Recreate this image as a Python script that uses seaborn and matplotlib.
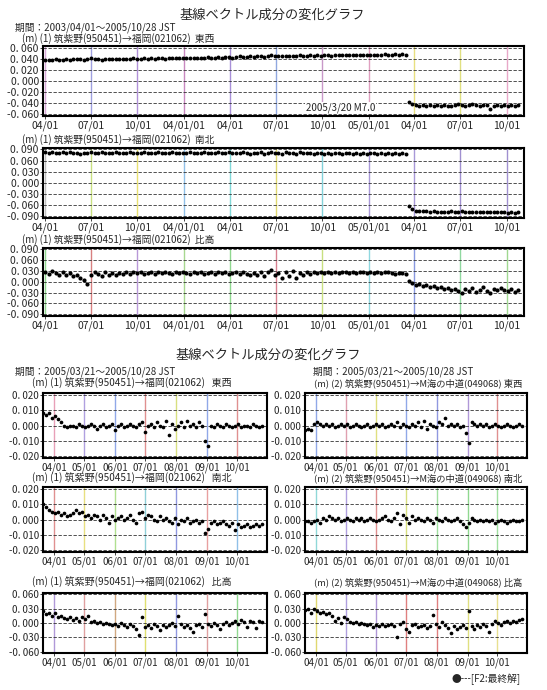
import matplotlib
matplotlib.use('Agg')
import matplotlib.pyplot as plt
import seaborn as sns
import pandas as pd

# ---- long period 2003/04/01 - 2005/10/28 (weekly readings) ----
ew1_pre = [
    0.038, 0.037, 0.038, 0.039, 0.038, 0.038, 0.039, 0.038, 0.039, 0.040,
    0.039, 0.038, 0.039, 0.042, 0.040, 0.039, 0.038, 0.039, 0.040, 0.039,
    0.040, 0.039, 0.040, 0.039, 0.040, 0.041, 0.040, 0.040, 0.041, 0.040,
    0.041, 0.040, 0.041, 0.041, 0.040, 0.041, 0.042, 0.041, 0.041, 0.042,
    0.041, 0.042, 0.042, 0.041, 0.042, 0.042, 0.043, 0.042, 0.042, 0.043,
    0.042, 0.043, 0.043, 0.042, 0.043, 0.044, 0.043, 0.043, 0.044, 0.043,
    0.044, 0.045, 0.043, 0.044, 0.046, 0.044, 0.045, 0.044, 0.045, 0.045,
    0.044, 0.045, 0.046, 0.045, 0.045, 0.046, 0.045, 0.046, 0.045, 0.046,
    0.046, 0.045, 0.046, 0.046, 0.047, 0.046, 0.046, 0.047, 0.046, 0.047,
    0.047, 0.046, 0.047, 0.047, 0.046, 0.047, 0.048, 0.047, 0.047, 0.048,
    0.047, 0.048, 0.047,
]
ew1_post = [
    -0.039, -0.043, -0.044, -0.045, -0.044, -0.045, -0.044, -0.045, -0.044, -0.045,
    -0.044, -0.045, -0.045, -0.044, -0.043, -0.044, -0.045, -0.044, -0.043, -0.044,
    -0.045, -0.044, -0.044, -0.052, -0.045, -0.044, -0.045, -0.044, -0.045, -0.044,
    -0.045, -0.044,
]
ns1_pre = [
    0.082, 0.081, 0.082, 0.080, 0.081, 0.082, 0.081, 0.083, 0.080, 0.081,
    0.079, 0.081, 0.080, 0.082, 0.081, 0.080, 0.082, 0.081, 0.080, 0.081,
    0.082, 0.080, 0.081, 0.080, 0.082, 0.081, 0.080, 0.081, 0.082, 0.080,
    0.081, 0.080, 0.082, 0.081, 0.080, 0.081, 0.082, 0.080, 0.081, 0.080,
    0.081, 0.082, 0.080, 0.081, 0.080, 0.082, 0.081, 0.080, 0.081, 0.082,
    0.080, 0.081, 0.082, 0.080, 0.081, 0.080, 0.082, 0.081, 0.079, 0.081,
    0.080, 0.082, 0.079, 0.081, 0.083, 0.080, 0.081, 0.079, 0.082, 0.080,
    0.081, 0.079, 0.082, 0.080, 0.081, 0.080, 0.079, 0.081, 0.080, 0.079,
    0.080, 0.079, 0.081, 0.080, 0.079, 0.080, 0.081, 0.079, 0.080, 0.079,
    0.080, 0.079, 0.080, 0.081, 0.079, 0.080, 0.079, 0.080, 0.079, 0.080,
    0.079, 0.080, 0.079,
]
ns1_post = [
    -0.062, -0.072, -0.075, -0.076, -0.077, -0.077, -0.078, -0.077, -0.078, -0.079,
    -0.078, -0.078, -0.077, -0.079, -0.078, -0.076, -0.078, -0.079, -0.078, -0.079,
    -0.080, -0.079, -0.078, -0.080, -0.079, -0.080, -0.079, -0.080, -0.081, -0.080,
    -0.081, -0.080,
]
ud1_pre = [
    0.028, 0.022, 0.030, 0.025, 0.020, 0.027, 0.018, 0.024, 0.015, 0.020,
    0.012, 0.005, -0.005, 0.018, 0.028, 0.022, 0.015, 0.026, 0.020, 0.024,
    0.018, 0.025, 0.021, 0.027, 0.022, 0.026, 0.024, 0.028, 0.023, 0.025,
    0.027, 0.022, 0.026, 0.024, 0.028, 0.025, 0.023, 0.027, 0.024, 0.026,
    0.025, 0.022, 0.027, 0.024, 0.026, 0.021, 0.025, 0.027, 0.023, 0.026,
    0.024, 0.027, 0.022, 0.025, 0.028, 0.021, 0.026, 0.023, 0.018, 0.025,
    0.020, 0.028, 0.015, 0.026, 0.033, 0.018, 0.024, 0.010, 0.028, 0.016,
    0.030, 0.012, 0.025, 0.020, 0.027, 0.022, 0.026, 0.024, 0.027, 0.025,
    0.026, 0.024, 0.027, 0.025, 0.026, 0.028, 0.024, 0.026, 0.025, 0.027,
    0.026, 0.025, 0.027, 0.024, 0.026, 0.025, 0.027, 0.026, 0.024, 0.023,
    0.025, 0.024, 0.022,
]
ud1_post = [
    0.003, -0.002, -0.008, -0.005, -0.012, -0.010, -0.015, -0.012, -0.018, -0.014,
    -0.020, -0.017, -0.022, -0.019, -0.025, -0.030, -0.020, -0.026, -0.016, -0.028,
    -0.022, -0.015, -0.025, -0.030, -0.020, -0.024, -0.018, -0.022, -0.026, -0.020,
    -0.028, -0.022,
]

# ---- short period 2005/03/21 - 2005/10/28 (3-day readings) ----
ew_a = [
    0.008, 0.007, 0.008, 0.005, 0.006, 0.004, 0.002, 0.000, -0.001, 0.000,
    0.000, -0.001, 0.001, 0.000, -0.001, 0.000, 0.001, 0.000, -0.002, 0.000,
    0.001, -0.001, 0.000, 0.001, -0.003, 0.000, 0.001, -0.001, 0.000, 0.001,
    0.000, -0.001, 0.001, 0.002, -0.004, 0.000, 0.001, -0.001, 0.002, 0.000,
    -0.001, 0.003, -0.006, 0.001, -0.002, 0.000, 0.002, -0.001, 0.003, 0.000,
    0.001, -0.001, 0.002, 0.000, -0.010, -0.013, 0.000, -0.001, 0.001, 0.000,
    -0.001, 0.001, 0.000, -0.001, 0.000, 0.001, -0.001, 0.000, 0.000, -0.001,
    0.001, 0.000, -0.001, 0.000,
]
ew_b = [
    -0.003, -0.002, -0.003, 0.001, 0.002, 0.001, 0.000, 0.001, 0.000, 0.001,
    -0.001, 0.000, 0.001, 0.000, 0.001, -0.001, 0.000, 0.001, 0.000, -0.001,
    0.000, 0.001, -0.001, 0.000, 0.001, 0.000, 0.001, -0.001, 0.000, 0.001,
    0.000, 0.002, -0.001, 0.001, 0.000, -0.001, 0.001, 0.000, 0.002, -0.001,
    0.003, -0.002, 0.001, 0.000, -0.001, 0.002, 0.001, 0.005, 0.000, 0.001,
    0.000, 0.001, -0.001, 0.000, -0.005, -0.011, 0.002, 0.001, 0.000, 0.001,
    0.000, 0.001, -0.001, 0.000, 0.001, 0.000, -0.001, 0.000, 0.001, 0.000,
    -0.001, 0.000, 0.001, 0.000,
]
ns_a = [
    0.010, 0.008, 0.006, 0.005, 0.004, 0.005, 0.003, 0.004, 0.002, 0.003,
    0.004, 0.006, 0.004, 0.005, 0.002, 0.003, 0.001, 0.003, 0.002, 0.000,
    0.003, 0.001, -0.002, 0.002, 0.000, 0.001, 0.002, 0.000, 0.001, 0.003,
    0.000, -0.002, 0.004, 0.005, 0.001, 0.003, 0.002, 0.000, -0.001, 0.002,
    0.000, 0.001, -0.001, -0.002, 0.001, -0.003, 0.000, -0.001, 0.001, -0.002,
    -0.001, 0.000, -0.002, -0.001, -0.009, -0.006, -0.002, -0.001, -0.003, -0.002,
    -0.001, -0.003, -0.004, -0.002, -0.007, -0.003, -0.005, -0.004, -0.003, -0.005,
    -0.004, -0.003, -0.004, -0.003,
]
ns_b = [
    -0.001, -0.001, -0.002, -0.001, 0.000, -0.002, 0.001, 0.000, 0.002, 0.001,
    0.000, 0.001, -0.001, 0.000, 0.001, 0.000, -0.001, 0.001, 0.000, 0.001,
    -0.001, 0.000, 0.001, 0.000, -0.001, 0.000, 0.001, 0.002, 0.000, -0.001,
    0.001, 0.004, -0.003, 0.003, 0.001, -0.002, 0.002, 0.000, 0.001, 0.000,
    -0.001, 0.001, 0.000, -0.002, 0.001, 0.000, -0.001, 0.001, 0.000, -0.001,
    0.000, 0.001, -0.001, -0.003, -0.005, -0.002, 0.001, 0.000, -0.001, 0.000,
    -0.001, 0.000, -0.001, 0.000, -0.002, -0.001, 0.000, -0.001, -0.002, -0.001,
    0.000, -0.001, -0.001, 0.000,
]
ud_a = [
    0.025, 0.018, 0.022, 0.015, 0.020, 0.012, 0.015, 0.010, 0.008, 0.012,
    0.006, 0.010, 0.005, 0.012, 0.008, 0.015, 0.002, 0.005, 0.000, 0.003,
    -0.002, 0.001, -0.003, -0.005, -0.002, -0.006, 0.000, -0.004, -0.008, -0.003,
    -0.006, -0.012, -0.026, 0.012, -0.008, -0.005, -0.010, -0.003, -0.007, -0.015,
    -0.005, -0.008, -0.004, 0.000, -0.006, 0.014, -0.002, -0.008, -0.004, -0.010,
    -0.018, -0.005, -0.002, -0.008, 0.018, -0.003, -0.006, 0.000, -0.004, -0.012,
    -0.002, 0.002, -0.004, 0.000, 0.004, -0.003, 0.006, 0.002, -0.008, 0.004,
    0.002, -0.010, 0.005, 0.003,
]
ud_b = [
    0.028, 0.030, 0.022, 0.030, 0.025, 0.020, 0.024, 0.018, 0.022, 0.015,
    0.005, 0.010, 0.000, 0.012, 0.008, 0.003, 0.000, 0.002, -0.003, 0.001,
    -0.002, -0.005, -0.003, -0.008, -0.004, -0.006, -0.002, -0.007, -0.004, -0.003,
    -0.006, -0.030, -0.002, 0.003, -0.012, -0.018, -0.005, -0.003, -0.008, -0.006,
    -0.004, -0.010, -0.006, 0.016, -0.003, -0.008, 0.002, -0.005, -0.010, -0.020,
    -0.006, -0.012, -0.008, -0.004, -0.010, 0.025, -0.007, -0.012, -0.005, -0.008,
    -0.003, -0.006, -0.018, -0.002, 0.004, 0.000, -0.004, 0.003, 0.005, 0.000,
    0.004, 0.002, 0.006, 0.008,
]

long_ticks = ['2003-04-01', '2003-07-01', '2003-10-01', '2004-01-01', '2004-04-01', '2004-07-01',
              '2004-10-01', '2005-01-01', '2005-04-01', '2005-07-01', '2005-10-01']
long_labels = ['04/01', '07/01', '10/01', '04/01/01', '04/01', '07/01', '10/01',
               '05/01/01', '04/01', '07/01', '10/01']
short_ticks = ['2005-04-01', '2005-05-01', '2005-06-01', '2005-07-01', '2005-08-01',
               '2005-09-01', '2005-10-01']
short_labels = ['04/01', '05/01', '06/01', '07/01', '08/01', '09/01', '10/01']

site_a = '(m) (1) 筑紫野(950451)→福岡(021062)'
site_b = '(m) (2) 筑紫野(950451)→M海の中道(049068)'
title = '基線ベクトル成分の変化グラフ'

sns.set_style('white')
plt.rcParams['font.family'] = ['Noto Sans CJK JP', 'DejaVu Sans']
plt.rcParams['axes.unicode_minus'] = False

W, H = 547, 690
fig = plt.figure(figsize=(W / 100, H / 100), dpi=100)


def box(l, t, r, b):
    return [l / W, 1 - b / H, (r - l) / W, (b - t) / H]


def put(x, y, s, size=7.5, **kw):
    fig.text(x / W, 1 - y / H, s, va='center', fontsize=size, **kw)


def draw_panel(ax, segments, yticks, ylim, xlim, ticks, labels, vcolors, ms=5, fs=7.5):
    ticks = pd.to_datetime(ticks)
    for t, c in zip(ticks, vcolors):
        ax.axvline(t, color=c, lw=1.0, zorder=1)
    for y in yticks:
        ax.axhline(y, color='#333333', lw=0.6, ls=(0, (4, 2)), zorder=1)
    for d, v in segments:
        sns.scatterplot(x=d, y=v, ax=ax, s=ms, color='black', linewidth=0,
                        legend=False, zorder=3)
    ax.set_xlim(pd.to_datetime(xlim))
    ax.set_ylim(ylim)
    ax.set_xticks(ticks)
    ax.set_xticklabels(labels, fontsize=fs)
    ax.set_yticks(yticks)
    ax.set_yticklabels([f'{v:.3f}'.replace('.', '. ') for v in yticks], fontsize=fs)
    ax.set_xlabel('')
    ax.set_ylabel('')
    ax.grid(False)
    for sp in ax.spines.values():
        sp.set_linewidth(1.5)
        sp.set_color('black')
    ax.tick_params(axis='both', length=2, width=0.6, pad=1, direction='out',
                   bottom=True, left=True)


# ---- top block ----
pre = pd.Series(pd.date_range('2003-04-01', periods=len(ew1_pre), freq='7D'))
post = pd.Series(pd.date_range('2005-03-21', periods=len(ew1_post), freq='7D'))
long_xlim = ['2003-03-28', '2005-11-04']

put(272, 15, title, size=9.5, ha='center')
put(15, 28, '期間：2003/04/01～2005/10/28 JST', size=7)

ax1 = fig.add_axes(box(43, 46, 524, 116))
draw_panel(ax1, [(pre, ew1_pre), (post, ew1_post)],
           [0.06, 0.04, 0.02, 0.0, -0.02, -0.04, -0.06], (-0.064, 0.063), long_xlim,
           long_ticks, long_labels,
           ['#d8a8d8', '#9fa0e0', '#b090d8', '#c888c0', '#a890d8', '#90a8e0',
            '#c898c8', '#e0a0c0', '#e8e080', '#e0e080', '#e8a8c8'], ms=8)
ax1.text(0.69, 0.12, '2005/3/20 M7.0', transform=ax1.transAxes, ha='right', va='center',
         fontsize=7, bbox=dict(facecolor='white', edgecolor='none', pad=0.5), zorder=4)
put(22, 39, site_a + '  東西', size=7)

ax2 = fig.add_axes(box(43, 148, 524, 218))
draw_panel(ax2, [(pre, ns1_pre), (post, ns1_post)],
           [0.09, 0.06, 0.03, 0.0, -0.03, -0.06, -0.09], (-0.095, 0.094), long_xlim,
           long_ticks, long_labels,
           ['#c0c0c0', '#c8e080', '#e8e070', '#90c0e8', '#80d8d8', '#e0d870',
            '#80d0d8', '#a898d8', '#a898d8', '#a090d0', '#a090d0'], ms=8)
put(22, 140, site_a + '  南北', size=7)

ax3 = fig.add_axes(box(43, 248, 524, 316))
draw_panel(ax3, [(pre, ud1_pre), (post, ud1_post)],
           [0.09, 0.06, 0.03, 0.0, -0.03, -0.06, -0.09], (-0.095, 0.094), long_xlim,
           long_ticks, long_labels,
           ['#90d890', '#d88080', '#b898d8', '#a8d890', '#90d890', '#d88090',
            '#c8e080', '#90d8e0', '#8898e0', '#90d8a0', '#a0d890'], ms=9)
put(22, 240, site_a + '  比高', size=7)

# ---- bottom block ----
days = pd.Series(pd.date_range('2005-03-21', periods=len(ew_a), freq='3D'))
short_xlim = ['2005-03-21', '2005-10-31']

put(268, 355, title, size=9.5, ha='center')
put(15, 372, '期間：2005/03/21～2005/10/28 JST', size=7)
put(313, 372, '期間：2005/03/21～2005/10/28 JST', size=7)

rows = [
    (393, 458, ew_a, ew_b, '東西', 383, [0.02, 0.01, 0.0, -0.01, -0.02], (-0.021, 0.021),
     ['#e8a0b8', '#b0a0e0', '#90a8e8', '#e09090', '#d8e080', '#90a8e8', '#e09090'],
     ['#90a8e8', '#e0a0b0', '#e0e080', '#90a8e8', '#9098e0', '#b098d8', '#e09090']),
    (487, 552, ns_a, ns_b, '南北', 478, [0.02, 0.01, 0.0, -0.01, -0.02], (-0.021, 0.021),
     ['#e09090', '#e8e080', '#b0e090', '#90d0d8', '#9098e0', '#e8a0a0', '#90c0e8'],
     ['#90d8d8', '#b0a0e0', '#e09090', '#d8e080', '#a0e0a0', '#90d890', '#a0e0a0']),
    (593, 653, ud_a, ud_b, '比高', 582, [0.06, 0.03, 0.0, -0.03, -0.06], (-0.063, 0.063),
     ['#b098d8', '#e0a0a0', '#d0a880', '#e0e070', '#9098e0', '#e0a0a0', '#90d890'],
     ['#e0d870', '#b0a0e0', '#b098d8', '#e08080', '#e08080', '#e0e080', '#e8e090']),
]
for top, bottom, va, vb, comp, ty, yt, yl, ca, cb in rows:
    axa = fig.add_axes(box(43, top, 267, bottom))
    draw_panel(axa, [(days, va)], yt, yl, short_xlim, short_ticks, short_labels, ca,
               ms=7, fs=7)
    put(32, ty, site_a + '   ' + comp, size=7.2)
    axb = fig.add_axes(box(305, top, 527, bottom))
    draw_panel(axb, [(days, vb)], yt, yl, short_xlim, short_ticks, short_labels, cb,
               ms=7, fs=7)
    put(314, ty, site_b + ' ' + comp, size=6.7)

put(452, 679, '●---[F2:最終解]', size=7)

fig.savefig('out.png', dpi=100, facecolor='white')
